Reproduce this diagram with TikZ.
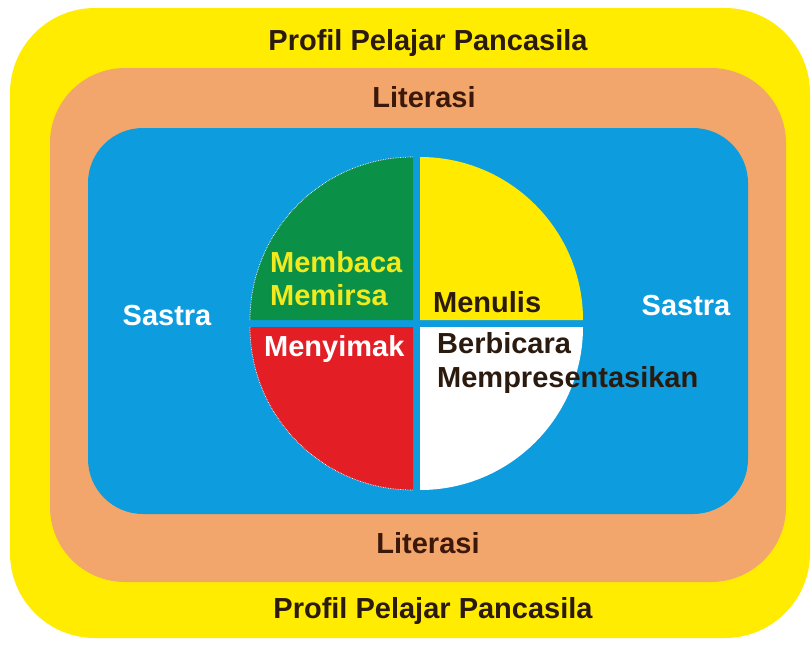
\documentclass[tikz,border=0pt]{standalone}
\usepackage{fontspec}
\setmainfont{Liberation Sans}
\definecolor{outery}{RGB}{255,236,0}
\definecolor{orng}{RGB}{242,166,107}
\definecolor{sky}{RGB}{13,157,223}
\definecolor{grn}{RGB}{10,145,71}
\definecolor{redq}{RGB}{227,30,37}
\definecolor{yelq}{RGB}{255,234,0}
\definecolor{darktxt}{RGB}{43,26,14}
\definecolor{littxt}{RGB}{60,24,10}
\definecolor{ytxt}{RGB}{242,234,28}
\begin{document}
\begin{tikzpicture}[x=1pt,y=-1pt,
  lbl/.style={inner sep=0pt,font=\fontsize{29}{32}\selectfont\bfseries},
  quad/.style={draw=none}]
\useasboundingbox (0,0) rectangle (812,648);
\fill[white] (0,0) rectangle (812,648);
% layers
\fill[outery,rounded corners=85pt] (10,8) rectangle (810,638);
\fill[orng,rounded corners=75pt] (50,68) rectangle (786,582);
\fill[sky,rounded corners=55pt] (88,128) rectangle (748,514);
% circle quadrants
\coordinate (cg) at (413,320);
\coordinate (cy) at (420,320);
\coordinate (cr) at (413,327);
\coordinate (cw) at (420,327);
\fill[grn] (cg) -- ++(-163,0) arc[start angle=180,end angle=270,radius=163] -- cycle;
\fill[yelq] (cy) -- ++(163,0) arc[start angle=0,end angle=-90,radius=163] -- cycle;
\fill[redq] (cr) -- ++(-163,0) arc[start angle=180,end angle=90,radius=163] -- cycle;
\fill[white] (cw) -- ++(163,0) arc[start angle=0,end angle=90,radius=163] -- cycle;
\draw[white,densely dotted,line width=0.7pt] (cg) ++(-163,0) arc[start angle=180,end angle=270,radius=163];
\draw[white,densely dotted,line width=0.7pt] (cr) ++(-163,0) arc[start angle=180,end angle=90,radius=163];
% texts
\node[lbl,anchor=base,text=darktxt] (t1) at (428,50) {Profil Pelajar Pancasila};
\node[lbl,anchor=base,text=littxt] (l1) at (424,107) {Literasi};
\node[lbl,anchor=base,text=littxt] (l2) at (428,553) {Literasi};
\node[lbl,anchor=base,text=darktxt] (t2) at (433,618) {Profil Pelajar Pancasila};
\node[lbl,anchor=base,text=white] (s1) at (167,325) {Sastra};
\node[lbl,anchor=base,text=white] (s2) at (686,315) {Sastra};
\node[lbl,anchor=base west,text=ytxt] (m1) at (270,272) {Membaca};
\node[lbl,anchor=base west,text=ytxt] (m2) at (270,305) {Memirsa};
\node[lbl,anchor=base west,text=darktxt] (m3) at (433,312) {Menulis};
\node[lbl,anchor=base west,text=white] (m4) at (264,356) {Menyimak};
\node[lbl,anchor=base west,text=darktxt] (m5) at (437,353) {Berbicara};
\node[lbl,anchor=base west,text=darktxt] (m6) at (437,387) {Mempresentasikan};
\end{tikzpicture}
\end{document}
